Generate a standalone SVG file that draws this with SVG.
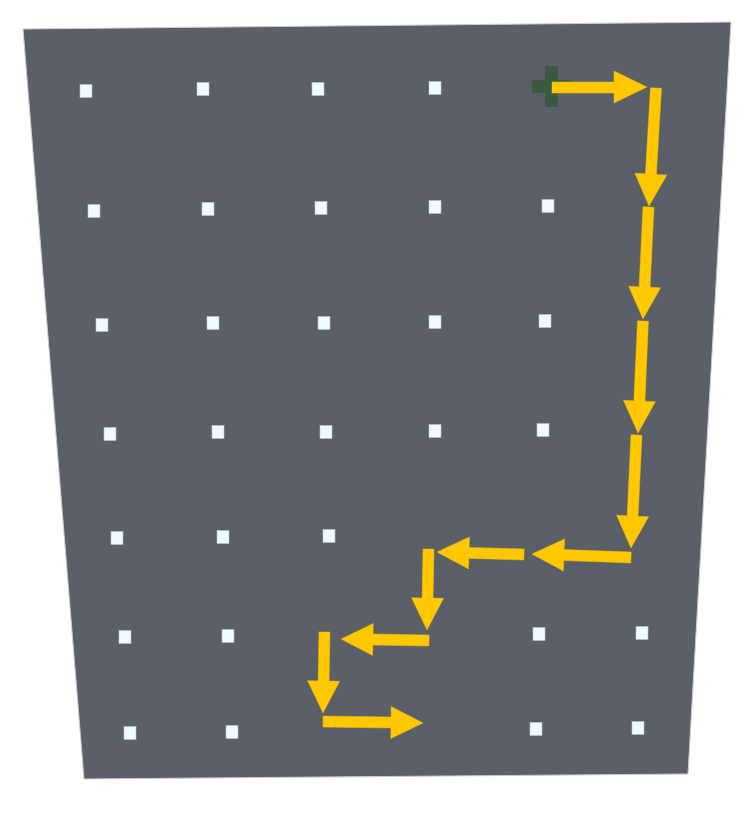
<svg xmlns="http://www.w3.org/2000/svg" width="748" height="817" viewBox="0 0 748 817">
  <style>
    .board { fill: #5b6068; stroke: #c9ccd0; stroke-width: 1; }
    .dot { fill: #effdff; stroke: #b8c2c6; stroke-width: 0.6; }
    .start { fill: #3a5b41; }
    .arrow { fill: #ffc800; stroke: #f2be00; stroke-width: 0.5; stroke-linejoin: miter; }
  </style>
  <rect width="748" height="817" fill="#ffffff"/>
  <g id="board">
    <polygon class="board" points="23,29 731,22 688,774 84,779"/>
  </g>
  <g id="dots">
    <rect class="dot" x="80" y="84.5" width="12" height="13"/>
    <rect class="dot" x="197" y="82.5" width="12" height="13"/>
    <rect class="dot" x="312" y="82.5" width="12" height="13"/>
    <rect class="dot" x="429" y="81.5" width="12" height="13"/>

    <rect class="dot" x="88" y="204.5" width="12" height="13"/>
    <rect class="dot" x="202" y="202.5" width="12" height="13"/>
    <rect class="dot" x="315" y="201.5" width="12" height="13"/>
    <rect class="dot" x="429" y="200.5" width="12" height="13"/>
    <rect class="dot" x="542" y="199.5" width="12" height="13"/>

    <rect class="dot" x="96" y="318.5" width="12" height="13"/>
    <rect class="dot" x="207" y="316.5" width="12" height="13"/>
    <rect class="dot" x="318" y="316.5" width="12" height="13"/>
    <rect class="dot" x="429" y="315.5" width="12" height="13"/>
    <rect class="dot" x="539" y="314.5" width="12" height="13"/>

    <rect class="dot" x="104" y="427.5" width="12" height="13"/>
    <rect class="dot" x="212" y="425.5" width="12" height="13"/>
    <rect class="dot" x="320" y="425.5" width="12" height="13"/>
    <rect class="dot" x="429" y="424.5" width="12" height="13"/>
    <rect class="dot" x="537" y="423.5" width="12" height="13"/>

    <rect class="dot" x="111" y="531.5" width="12" height="13"/>
    <rect class="dot" x="217" y="530.5" width="12" height="13"/>
    <rect class="dot" x="323" y="529.5" width="12" height="13"/>

    <rect class="dot" x="119" y="630.5" width="12" height="13"/>
    <rect class="dot" x="222" y="629.5" width="12" height="13"/>
    <rect class="dot" x="533" y="627.5" width="12" height="13"/>
    <rect class="dot" x="636" y="626.5" width="12" height="13"/>

    <rect class="dot" x="124" y="726.5" width="12" height="13"/>
    <rect class="dot" x="226" y="725.5" width="12" height="13"/>
    <rect class="dot" x="530" y="722.5" width="12" height="13"/>
    <rect class="dot" x="632" y="721.5" width="12" height="13"/>
  </g>
  <g id="start">
    <rect class="start" x="545" y="66" width="13" height="41"/>
    <rect class="start" x="532" y="80" width="39" height="13"/>
  </g>
  <g id="connectors">
    <polygon class="arrow" points="552,82 614,82 614,71 647,87 614,103 614,93 552,93"/>
    <polygon class="arrow" points="650.5,87.7 661.5,88.3 656.4,174.4 666.9,175.0 649,206 634.9,173.2 645.4,173.8"/>
    <polygon class="arrow" points="643.0,206.7 654.0,207.3 650.1,287.3 660.6,287.8 643,319 628.6,286.2 639.1,286.7"/>
    <polygon class="arrow" points="637.5,320.8 648.5,321.2 644.9,401.2 655.4,401.7 638,433 623.4,400.3 633.9,400.8"/>
    <polygon class="arrow" points="631.0,434.7 642.0,435.3 638.1,516.3 648.6,516.8 631,548 616.6,515.2 627.1,515.7"/>
    <polygon class="arrow" points="631.2,552.0 564.2,549.6 564.6,539.1 532,554 563.4,571.1 563.8,560.6 630.8,563.0"/>
    <polygon class="arrow" points="524.2,549.0 469.2,547.4 469.5,536.9 437,552 468.5,568.9 468.8,558.4 523.8,560.0"/>
    <polygon class="arrow" points="423.0,548.9 434.0,549.1 433.1,598.1 443.6,598.3 427,630 411.6,597.7 422.1,597.9"/>
    <polygon class="arrow" points="429.1,635.0 373.1,634.0 373.3,623.5 341,639 372.7,655.5 372.9,645.0 428.9,646.0"/>
    <polygon class="arrow" points="319.0,631.9 330.0,632.1 329.1,681.1 339.6,681.3 323,713 307.6,680.7 318.1,680.9"/>
    <polygon class="arrow" points="323.1,716.0 391.1,717.0 391.2,706.5 423,723 390.8,738.5 390.9,728.0 322.9,727.0"/>
  </g>
</svg>
